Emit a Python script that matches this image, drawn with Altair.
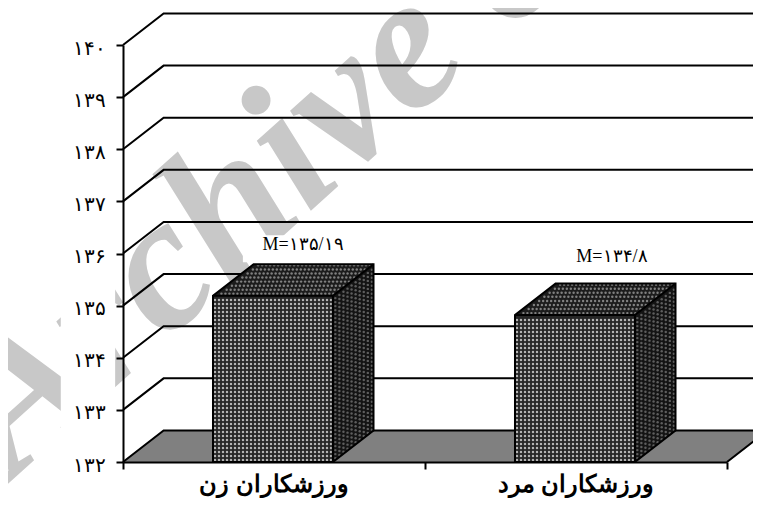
import altair as alt
import numpy as np
import pandas as pd

# values
categories = ["ورزشکاران زن", "ورزشکاران مرد"]
means = [135.19, 134.82]
bar_left = [0.298, 1.298]
bar_right = [0.695, 1.695]
mean_labels = ["M=۱۳۵/۱۹", "M=۱۳۴/۸"]
mean_label_x = [0.596, 1.619]
mean_label_y = [136.16, 135.93]
cat_x = [0.5, 1.5]
y_ticks = [132, 133, 134, 135, 136, 137, 138, 139, 140]
y_labels = ["۱۳۲", "۱۳۳", "۱۳۴", "۱۳۵", "۱۳۶", "۱۳۷", "۱۳۸", "۱۳۹", "۱۴۰"]
x_ticks = [0, 1, 2]
watermark = ["Archive of SID"]

X0, X1, Y0, Y1 = 0, 2, 132, 140
W, H = 604, 417
DX, DY = 0.1345, 0.605
PX = (X1 - X0) / W
PY = (Y1 - Y0) / H

xs = alt.Scale(domain=[X0, X1], nice=False, zero=False)
ys = alt.Scale(domain=[Y0, Y1], nice=False, zero=False)
label_expr = "[" + ",".join(f"'{s}'" for s in y_labels) + "][datum.value-132]"
x_axis = alt.Axis(values=x_ticks, labels=False, tickSize=7, tickWidth=2, tickColor="black",
                  domainColor="black", domainWidth=2, grid=False, zindex=1, title=None)
y_axis = alt.Axis(values=y_ticks, labelExpr=label_expr, tickSize=7, tickWidth=2, tickColor="black",
                  domainColor="black", domainWidth=2, grid=False, zindex=1, title=None,
                  labelFont="Liberation Serif", labelFontSize=20, labelColor="black",
                  labelPadding=11, labelOffset=3)
X = lambda f="x": alt.X(f"{f}:Q", scale=xs, axis=x_axis)
Yc = lambda f="y": alt.Y(f"{f}:Q", scale=ys, axis=y_axis)

# Watermark
wm = alt.Chart(pd.DataFrame({"t": watermark, "x": [-0.361], "y": [131.69]})).mark_text(
    font="Liberation Serif", fontStyle="italic", fontWeight="bold", fontSize=192,
    color="#c8c8c8", angle=318, align="left", baseline="alphabetic",
).encode(x=X(), y=Yc(), text="t:N")

# White bands behind the value-axis labels and the first mean label
band = alt.Chart(pd.DataFrame({"x": [-0.206, 0.397], "x2": [-0.026, 0.752],
                               "y": [131.0, 135.83], "y2": [141.0, 136.35]})).mark_rect(
    color="white").encode(x=X(), x2="x2:Q", y=Yc(), y2="y2:Q")

# Back wall gridlines
rows = []
for v in y_ticks[1:]:
    for i, (a, b) in enumerate([(0, v), (DX, v + DY), (X1 + DX, v + DY)]):
        rows.append({"x": a, "y": b, "g": v, "o": i})
grid = alt.Chart(pd.DataFrame(rows)).mark_line(color="black", strokeWidth=2).encode(
    x=X(), y=Yc(), detail="g:N", order="o:Q")


def para_top(x0, x1, v):
    return pd.DataFrame({"x": [x0, x0 + DX, x1, x1 + DX],
                         "y": [v, v + DY, v + DY, v + DY],
                         "y2": [v, v, v, v + DY]})


def outline(points, g):
    return [{"x": a, "y": b, "g": g, "o": i} for i, (a, b) in enumerate(points)]


# Floor
floor_area = alt.Chart(para_top(X0, X1, Y0)).mark_area(color="#808080", interpolate="linear").encode(
    x=X(), y=Yc(), y2="y2:Q")
floor_line = alt.Chart(pd.DataFrame(outline(
    [(X0, Y0), (X0 + DX, Y0 + DY), (X1 + DX, Y0 + DY), (X1, Y0)], "floor"))).mark_line(
    color="black", strokeWidth=2).encode(x=X(), y=Yc(), detail="g:N", order="o:Q")

layers = [wm, band, grid, floor_area, floor_line]

STEP_X, STEP_Y = 4 * PX, 4 * PY
for k, v in enumerate(means):
    l, r = bar_left[k], bar_right[k]
    front = alt.Chart(pd.DataFrame({"x": [l], "x2": [r], "y": [Y0], "y2": [v]})).mark_rect(color="#262626").encode(
        x=X(), x2="x2:Q", y=Yc(), y2="y2:Q")
    top = alt.Chart(para_top(l, r, v)).mark_area(color="#1c1c1c", interpolate="linear").encode(
        x=X(), y=Yc(), y2="y2:Q")
    side = alt.Chart(pd.DataFrame({"x": [r, r + DX], "y": [Y0, Y0 + DY], "y2": [v, v + DY]})).mark_area(
        color="#141414", interpolate="linear").encode(x=X(), y=Yc(), y2="y2:Q")
    fx, fy = np.meshgrid(np.arange(l + 2 * PX, r - PX, STEP_X), np.arange(Y0 + 2 * PY, v - PY, STEP_Y))
    front_dots = pd.DataFrame({"x": fx.ravel(), "y": fy.ravel()})
    tu, tw = np.meshgrid(np.arange(0.05, 1, 4 / 120), np.arange(0.06, 1, 4 / 31))
    top_dots = pd.DataFrame({"x": (l + tu * (r - l) + tw * DX).ravel(), "y": (v + tw * DY).ravel()})
    su, sw = np.meshgrid(np.arange(0.06, 1, 4 / 40), np.arange(Y0 + 2 * PY, v - PY, STEP_Y))
    side_dots = pd.DataFrame({"x": (r + su * DX).ravel(), "y": (sw + su * DY).ravel()})
    dots = lambda df, c, s: alt.Chart(df).mark_circle(color=c, size=s, opacity=1).encode(x=X(), y=Yc())
    lines = outline([(l, Y0), (l, v), (l + DX, v + DY), (r + DX, v + DY), (r + DX, Y0 + DY), (r, Y0), (l, Y0)], "a")
    lines += outline([(l, v), (r, v), (r + DX, v + DY)], "b")
    lines += outline([(r, v), (r, Y0)], "c")
    edge = alt.Chart(pd.DataFrame(lines)).mark_line(color="black", strokeWidth=2).encode(
        x=X(), y=Yc(), detail="g:N", order="o:Q")
    layers += [front, top, side,
               dots(front_dots, "#b4b4b4", 6), dots(top_dots, "#808080", 6), dots(side_dots, "#5e5e5e", 6),
               edge]

mean_text = alt.Chart(pd.DataFrame({"x": mean_label_x, "y": mean_label_y, "t": mean_labels})).mark_text(
    font="Liberation Serif", fontSize=18, color="black", align="center", baseline="middle",
).encode(x=X(), y=Yc(), text="t:N")
cat_text = alt.Chart(pd.DataFrame({"x": cat_x, "y": [Y0, Y0], "t": categories})).mark_text(
    font="Liberation Sans", fontSize=24, fontWeight="bold", color="black", align="center",
    baseline="middle", dy=23,
).encode(x=X(), y=Yc(), text="t:N")
layers += [mean_text, cat_text]

chart = alt.layer(*layers).properties(
    width=W, height=H,
    padding={"left": 115, "top": 37, "right": 26, "bottom": 36},
    autosize=alt.AutoSizeParams(type="none"),
    background="white",
).configure_view(stroke=None)

chart.save("out.html", embed_options={"renderer": "svg", "actions": False})
